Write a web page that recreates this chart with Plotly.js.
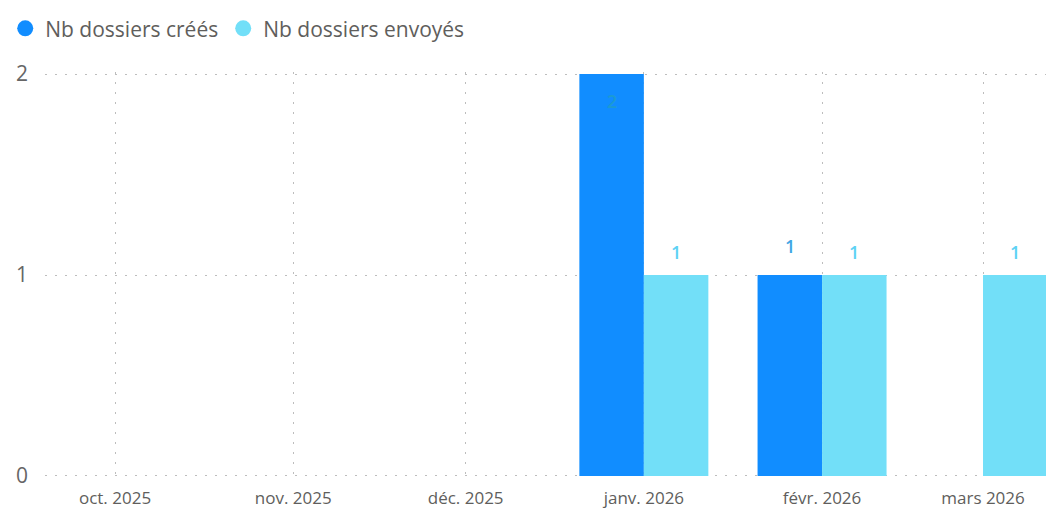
<!DOCTYPE html>
<html>
<head>
<meta charset="utf-8">
<script src="https://cdn.plot.ly/plotly-3.0.1.min.js"></script>
<style>html,body{margin:0;padding:0;background:#fff;}#chart{width:1046px;height:510px;}</style>
</head>
<body>
<div id="chart"></div>
<script>
// ---- data ----
const months = ['2025-10-01', '2025-11-01', '2025-12-01', '2026-01-01', '2026-02-01', '2026-03-01'];
const monthLabels = ['oct. 2025', 'nov. 2025', 'déc. 2025', 'janv. 2026', 'févr. 2026', 'mars 2026'];
const created = [null, null, null, 2, 1, null];
const sent = [null, null, null, 1, 1, 1];
const seriesNames = ['Nb dossiers créés', 'Nb dossiers envoyés'];
const yTicks = [0, 1, 2];

// ---- style ----
const colCreated = '#118DFF';
const colSent = '#72DFF8';
const DAY = 86400000;
const barW = 11.22 * DAY;
const font = 'Open Sans, Noto Sans, sans-serif';
const yMax = 2;
const yPad = 0.01;

const traces = [
  {type: 'bar', x: months, y: created, name: seriesNames[0], marker: {color: colCreated},
   width: barW, offset: -barW, showlegend: false, hoverinfo: 'none'},
  {type: 'bar', x: months, y: sent, name: seriesNames[1], marker: {color: colSent},
   width: barW, offset: 0, showlegend: false, hoverinfo: 'none'},
  {type: 'scatter', mode: 'markers', x: [null], y: [null], name: seriesNames[0],
   marker: {color: colCreated, size: 16, symbol: 'circle'}},
  {type: 'scatter', mode: 'markers', x: [null], y: [null], name: seriesNames[1],
   marker: {color: colSent, size: 16, symbol: 'circle'}}
];

const annotations = [];
months.forEach((m, i) => {
  const c = created[i];
  if (c !== null && c !== undefined) {
    const inside = c >= yMax;
    annotations.push({x: m, y: c, xref: 'x', yref: 'y', text: String(c), showarrow: false,
      xshift: -32, yshift: inside ? -27 : 29,
      font: {family: font, size: 18, color: inside ? '#1C9AD2' : '#3FA6E4', weight: 600}});
  }
  const s = sent[i];
  if (s !== null && s !== undefined) {
    annotations.push({x: m, y: s, xref: 'x', yref: 'y', text: String(s), showarrow: false,
      xshift: 32, yshift: 23,
      font: {family: font, size: 18, color: '#5DD2F4', weight: 600}});
  }
});

const layout = {
  width: 1046, height: 510,
  margin: {l: 45, r: 0, t: 72, b: 32},
  paper_bgcolor: '#ffffff', plot_bgcolor: '#ffffff',
  font: {family: font, color: '#605E5C'},
  barmode: 'group',
  showlegend: true,
  legend: {orientation: 'h', xref: 'container', yref: 'container', x: 0.005, y: 0.984,
    xanchor: 'left', yanchor: 'top', font: {family: font, size: 21, color: '#605E5C'},
    itemwidth: 30, tracegroupgap: 0, bgcolor: 'rgba(0,0,0,0)'},
  xaxis: {type: 'date', range: ['2025-09-18 19:40', '2026-03-11 23:00'],
    tickmode: 'array', tickvals: months, ticktext: monthLabels,
    showgrid: true, gridcolor: '#BDBDBD', griddash: '2px,8px', gridwidth: 1,
    zeroline: false, showline: false, ticks: '', ticklabelstandoff: 8,
    tickfont: {family: font, size: 17, color: '#605E5C'}},
  yaxis: {range: [-yPad, yMax + yPad], tickmode: 'array', tickvals: yTicks, ticktext: yTicks.map(String),
    showgrid: true, gridcolor: '#BDBDBD', griddash: '2px,8px', gridwidth: 1,
    zeroline: false, showline: false, ticks: '', ticklabelstandoff: 16,
    tickfont: {family: font, size: 21, color: '#666666'}},
  annotations: annotations
};

Plotly.newPlot('chart', traces, layout, {displayModeBar: false, staticPlot: true});
</script>
</body>
</html>
